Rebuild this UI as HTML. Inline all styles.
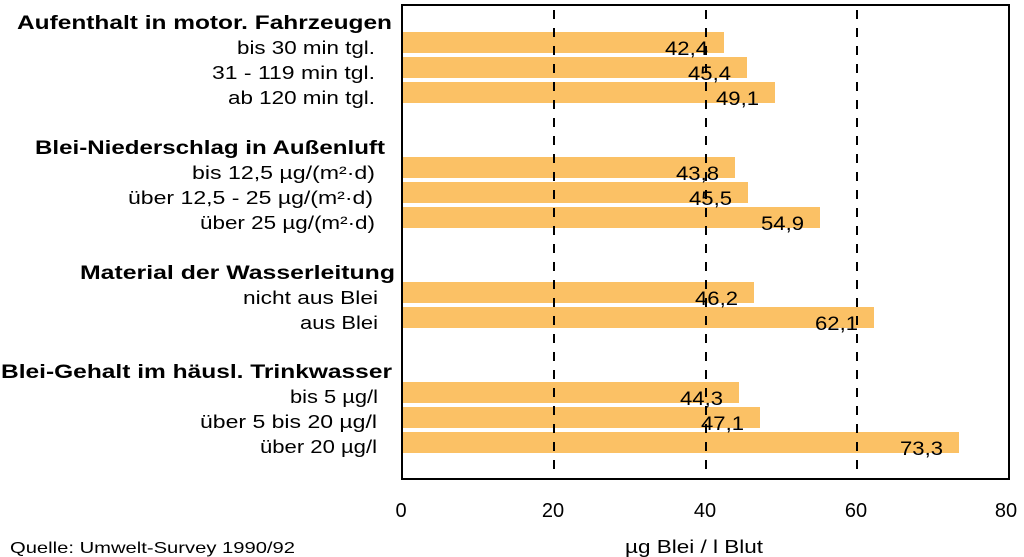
<!DOCTYPE html>
<html><head><meta charset="utf-8"><style>
html,body{margin:0;padding:0;background:#fff;}
svg{display:block;font-family:"Liberation Sans",Arial,sans-serif;}
</style></head><body>
<svg width="1024" height="557" viewBox="0 0 1024 557">
<rect x="0" y="0" width="1024" height="557" fill="#fff"/>
<g fill="#FBC165">
<rect x="403" y="32" width="321" height="21"/>
<rect x="403" y="57" width="344" height="21"/>
<rect x="403" y="82" width="372" height="21"/>
<rect x="403" y="157" width="332" height="21"/>
<rect x="403" y="182" width="345" height="21"/>
<rect x="403" y="207" width="417" height="21"/>
<rect x="403" y="282" width="351" height="21"/>
<rect x="403" y="307" width="471" height="21"/>
<rect x="403" y="382" width="336" height="21"/>
<rect x="403" y="407" width="357" height="21"/>
<rect x="403" y="432" width="556" height="21"/>
</g>
<g stroke="#000" stroke-width="2" stroke-dasharray="9,9">
<line x1="554" y1="10" x2="554" y2="479"/>
<line x1="706" y1="10" x2="706" y2="479"/>
<line x1="857" y1="10" x2="857" y2="479"/>
</g>
<rect x="402" y="5" width="607" height="474" fill="none" stroke="#000" stroke-width="2"/>
<g font-size="19" fill="#000">
<text x="665" y="55" textLength="43" lengthAdjust="spacingAndGlyphs">42,4</text>
<text x="688" y="80" textLength="43" lengthAdjust="spacingAndGlyphs">45,4</text>
<text x="716" y="105" textLength="43" lengthAdjust="spacingAndGlyphs">49,1</text>
<text x="676" y="180" textLength="43" lengthAdjust="spacingAndGlyphs">43,8</text>
<text x="689" y="205" textLength="43" lengthAdjust="spacingAndGlyphs">45,5</text>
<text x="761" y="230" textLength="43" lengthAdjust="spacingAndGlyphs">54,9</text>
<text x="695" y="305" textLength="43" lengthAdjust="spacingAndGlyphs">46,2</text>
<text x="815" y="330" textLength="43" lengthAdjust="spacingAndGlyphs">62,1</text>
<text x="680" y="405" textLength="43" lengthAdjust="spacingAndGlyphs">44,3</text>
<text x="701" y="430" textLength="43" lengthAdjust="spacingAndGlyphs">47,1</text>
<text x="900" y="455" textLength="43" lengthAdjust="spacingAndGlyphs">73,3</text>
</g>
<g font-size="19" font-weight="bold" fill="#000">
<text x="17" y="29" textLength="375" lengthAdjust="spacingAndGlyphs">Aufenthalt in motor. Fahrzeugen</text>
<text x="35" y="154" textLength="350" lengthAdjust="spacingAndGlyphs">Blei-Niederschlag in Außenluft</text>
<text x="80" y="279" textLength="315" lengthAdjust="spacingAndGlyphs">Material der Wasserleitung</text>
<text x="1" y="378" textLength="391" lengthAdjust="spacingAndGlyphs">Blei-Gehalt im häusl. Trinkwasser</text>
</g>
<g font-size="18" fill="#000">
<text x="237" y="54" textLength="138" lengthAdjust="spacingAndGlyphs">bis 30 min tgl.</text>
<text x="212" y="79" textLength="163" lengthAdjust="spacingAndGlyphs">31 - 119 min tgl.</text>
<text x="228" y="104" textLength="147" lengthAdjust="spacingAndGlyphs">ab 120 min tgl.</text>
<text x="192" y="179" textLength="183" lengthAdjust="spacingAndGlyphs">bis 12,5 µg/(m²·d)</text>
<text x="128" y="204" textLength="245" lengthAdjust="spacingAndGlyphs">über 12,5 - 25 µg/(m²·d)</text>
<text x="200" y="229" textLength="175" lengthAdjust="spacingAndGlyphs">über 25 µg/(m²·d)</text>
<text x="243" y="304" textLength="135" lengthAdjust="spacingAndGlyphs">nicht aus Blei</text>
<text x="300" y="329" textLength="78" lengthAdjust="spacingAndGlyphs">aus Blei</text>
<text x="290" y="403" textLength="88" lengthAdjust="spacingAndGlyphs">bis 5 µg/l</text>
<text x="200" y="428" textLength="177" lengthAdjust="spacingAndGlyphs">über 5 bis 20 µg/l</text>
<text x="260" y="453" textLength="117" lengthAdjust="spacingAndGlyphs">über 20 µg/l</text>
</g>
<g font-size="20" text-anchor="middle" fill="#000">
<text x="401" y="517">0</text>
<text x="553" y="517">20</text>
<text x="705" y="517">40</text>
<text x="856" y="517">60</text>
<text x="1006" y="517">80</text>
</g>
<text x="10" y="553" font-size="16" fill="#000" textLength="285" lengthAdjust="spacingAndGlyphs">Quelle: Umwelt-Survey 1990/92</text>
<text x="625" y="553" font-size="18" fill="#000" textLength="138" lengthAdjust="spacingAndGlyphs">µg Blei / l Blut</text>
</svg>
</body></html>
